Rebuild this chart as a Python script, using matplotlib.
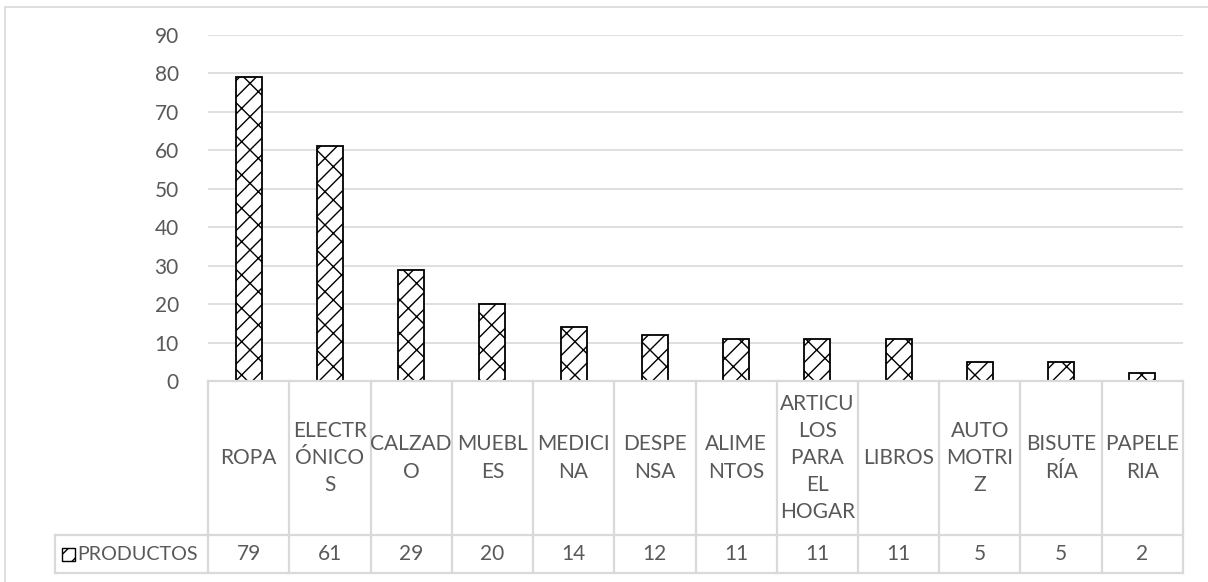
import matplotlib
matplotlib.use("Agg")
import matplotlib.pyplot as plt
from matplotlib.patches import Rectangle

# product categories (wrapped as they appear in the data table) and counts
categorias = ["ROPA", "ELECTR\nÓNICO\nS", "CALZAD\nO", "MUEBL\nES", "MEDICI\nNA",
              "DESPE\nNSA", "ALIME\nNTOS", "ARTICU\nLOS\nPARA\nEL\nHOGAR", "LIBROS",
              "AUTO\nMOTRI\nZ", "BISUTE\nRÍA", "PAPELE\nRIA"]
productos = [79, 61, 29, 20, 14, 12, 11, 11, 11, 5, 5, 2]
serie = "PRODUCTOS"
y_ticks = [0, 10, 20, 30, 40, 50, 60, 70, 80, 90]

W, H = 1208, 582
GRID = "#D9D9D9"
TXT = "#595959"
FS = 15

plt.rcParams["font.family"] = ["Lato", "DejaVu Sans"]
plt.rcParams["hatch.linewidth"] = 1.0

fig = plt.figure(figsize=(W / 100, H / 100), dpi=100)

# pixel box helper -> figure fraction
def box(x0, y0, x1, y1):
    return [x0 / W, 1 - y1 / H, (x1 - x0) / W, (y1 - y0) / H]

# chart border
fig.patches.append(Rectangle((5 / W, -0.1), 1.1, 1 - 6.5 / H + 0.1, transform=fig.transFigure,
                             fill=False, edgecolor=GRID, linewidth=1.2))

px_left, px_right, px_top, px_zero = 208, 1183, 35, 381
n = len(productos)
ax = fig.add_axes(box(px_left, px_top, px_right, px_zero))
x = list(range(n))
ax.bar(x, productos, width=0.32, color="white", edgecolor="black", hatch="//\\",
       linewidth=1.3, zorder=3)
ax.set_xlim(-0.5, n - 0.5)
ax.set_ylim(0, 90)
ax.set_yticks(y_ticks)
ax.set_xticks([])
ax.tick_params(axis="y", length=0, pad=21, labelsize=FS, labelcolor=TXT)
ax.grid(axis="y", color=GRID, linewidth=1.2, zorder=0)
for s in ax.spines.values():
    s.set_visible(False)

# data table under the plot
col_w = (px_right - px_left) / n
leg_left, row_mid, tab_bottom = 55, 535, 573
x_min = -0.5 - (px_left - leg_left) / col_w
tab = fig.add_axes(box(leg_left, px_zero, px_right, tab_bottom))
tab.set_xlim(x_min, n - 0.5)
tab.set_ylim(tab_bottom - px_zero, 0)
tab.axis("off")
ym = row_mid - px_zero
yb = tab_bottom - px_zero
lk = dict(color=GRID, linewidth=1.6, clip_on=False)
tab.plot([-0.5, n - 0.5], [0, 0], **lk)
tab.plot([x_min, n - 0.5], [ym, ym], **lk)
tab.plot([x_min, n - 0.5], [yb, yb], **lk)
tab.plot([x_min, x_min], [ym, yb], **lk)
for i in range(n + 1):
    tab.plot([i - 0.5, i - 0.5], [0, yb], **lk)
for i, (c, v) in enumerate(zip(categorias, productos)):
    tab.text(i, ym / 2, c, ha="center", va="center", fontsize=FS, color=TXT,
             linespacing=1.45)
    tab.text(i, (ym + yb) / 2, str(v), ha="center", va="center", fontsize=FS, color=TXT)

# legend key inside the first cell
kx0 = x_min + (62 - leg_left) / col_w
kw = 13 / col_w
tab.add_patch(Rectangle((kx0, (ym + yb) / 2 - 6.5), kw, 13, facecolor="white",
                        edgecolor="black", hatch="//\\", linewidth=1.0, clip_on=False))
tab.text(kx0 + kw + 2 / col_w, (ym + yb) / 2, serie, ha="left", va="center",
         fontsize=14.2, color=TXT)

fig.savefig("out.png", dpi=100)
